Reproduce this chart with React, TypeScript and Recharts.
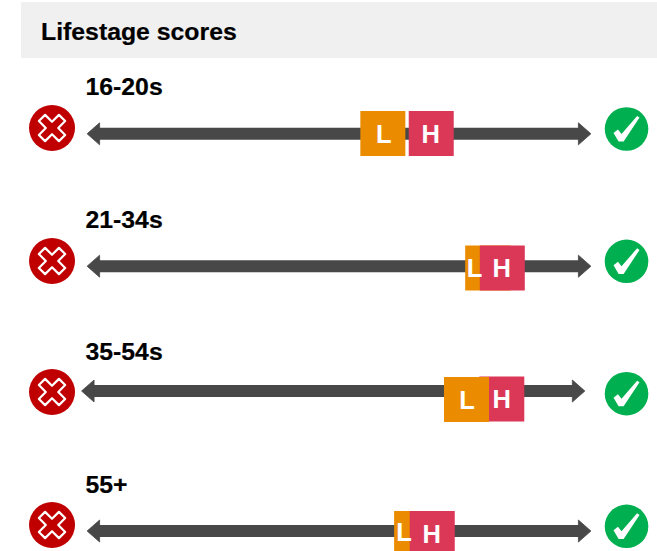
import React from "react";
import { ScatterChart, Scatter, XAxis, YAxis } from "recharts";

const title = "Lifestage scores";
const rowNames = ["16-20s", "21-34s", "35-54s", "55+"];
const lowScores = [58.7, 79.5, 75.3, 65.4];
const highScores = [68.3, 82.4, 82.3, 68.5];
const lowLabelScores = [58.9, 76.9, 75.4, 62.9];
const highLabelScores = [68.2, 82.3, 82.3, 68.4];
const shaftStart = [2.4, 2.4, 1.3, 2.4];
const shaftEnd = [97.6, 97.6, 96.4, 97.6];
const lowOnTop = [false, false, true, false];

// vertical levels on the chart's 0-551 axis
const shaftLevels = [133.8, 266.2, 391, 531];
const lowBoxLevels = [133.5, 268, 399.5, 533.5];
const highBoxLevels = [133.5, 268, 399, 533.5];
const lowTextLevels = [142.7, 276.7, 409, 541];
const highTextLevels = [142.7, 276.7, 408, 543];
const nameLevels = [95, 228, 360, 493];
const crossLevels = [128, 261, 392, 525];
const checkLevels = [129, 261.3, 393.7, 526.3];

const W = 657;
const H = 551;
const UNIT = 5.04;
const ORIGIN = 87;
const xDomain: [number, number] = [-ORIGIN / UNIT, (W - ORIGIN) / UNIT];
const crossScore = -6.94;
const checkScore = 107.05;
const nameScore = -0.3;

const FONT = "'Liberation Sans', Arial, sans-serif";
const DARK = "#484848";
const LOW = "#EB8C00";
const HIGH = "#DB3858";

const boxes = rowNames.flatMap((_, i) => {
  const l = { x: lowScores[i], y: lowBoxLevels[i], fill: LOW };
  const h = { x: highScores[i], y: highBoxLevels[i], fill: HIGH };
  return lowOnTop[i] ? [h, l] : [l, h];
});
const boxTexts = rowNames.flatMap((_, i) => [
  { x: lowLabelScores[i], y: lowTextLevels[i], t: "L" },
  { x: highLabelScores[i], y: highTextLevels[i], t: "H" },
]);
const names = rowNames.map((t, i) => ({ x: nameScore, y: nameLevels[i], t }));
const crosses = crossLevels.map((y) => ({ x: crossScore, y }));
const checks = checkLevels.map((y) => ({ x: checkScore, y }));

const Head = (p: any) =>
  p.payload.dir < 0 ? (
    <path d={`M${p.cx + 0.5} ${p.cy - 11} L${p.cx - 12} ${p.cy} L${p.cx + 0.5} ${p.cy + 11} Z`} fill={DARK} stroke={DARK} strokeWidth={0.8} strokeLinejoin="round" />
  ) : (
    <path d={`M${p.cx - 0.5} ${p.cy - 11} L${p.cx + 12} ${p.cy} L${p.cx - 0.5} ${p.cy + 11} Z`} fill={DARK} stroke={DARK} strokeWidth={0.8} strokeLinejoin="round" />
  );

const Box = (p: any) => (
  <rect x={p.cx - 22.5} y={p.cy - 22.5} width={45} height={45} fill={p.payload.fill} />
);

const BoxText = (p: any) => (
  <text x={p.cx} y={p.cy} textAnchor="middle" fill="#fff" fontFamily={FONT} fontWeight={700} fontSize={25.5}>
    {p.payload.t}
  </text>
);

const NameText = (p: any) => (
  <text x={p.cx} y={p.cy} textAnchor="start" fill="#000" fontFamily={FONT} fontWeight={700} fontSize={24.8} stroke="#000" strokeWidth={0.2}>
    {p.payload.t}
  </text>
);

const Cross = (p: any) => {
  const L = 14.2;
  const w = 4.4;
  const d = `M${-w} ${-L} H${w} V${-w} H${L} V${w} H${w} V${L} H${-w} V${w} H${-L} V${-w} H${-w} Z`;
  return (
    <g transform={`translate(${p.cx} ${p.cy})`}>
      <circle r={23} fill="#C00000" />
      <path d={d} transform="rotate(45)" fill="#C00000" stroke="#fff" strokeWidth={2.2} strokeLinejoin="round" />
    </g>
  );
};

const Check = (p: any) => (
  <g transform={`translate(${p.cx} ${p.cy})`}>
    <circle r={21.8} fill="#00B050" />
    <path d="M-13 4 L-8.6 0.5 L-5 5 L10.6 -13 L13 -11.4 L-2.9 12.6 L-7.9 12.6 Z" fill="#fff" />
  </g>
);

export default function App() {
  return (
    <div style={{ position: "absolute", left: 0, top: 0, width: W, height: H, overflow: "hidden", background: "#fff" }}>
      <div
        style={{
          position: "absolute",
          left: 21,
          top: 2,
          width: W - 21,
          height: 56,
          background: "#F0F0F0",
          color: "#000",
          fontFamily: FONT,
          fontWeight: 700,
          fontSize: 24.8,
          lineHeight: "59px",
          paddingLeft: 20,
          boxSizing: "border-box",
          WebkitTextStroke: "0.2px #000",
        }}
      >
        {title}
      </div>
      <div style={{ position: "absolute", left: 0, top: 0 }}>
        <ScatterChart width={W} height={H} margin={{ top: 0, right: 0, bottom: 0, left: 0 }}>
          <XAxis type="number" dataKey="x" domain={xDomain} hide allowDataOverflow />
          <YAxis type="number" dataKey="y" domain={[0, H]} reversed hide allowDataOverflow />
          {rowNames.map((n, i) => (
            <Scatter
              key={n}
              name={n}
              data={[
                { x: shaftStart[i], y: shaftLevels[i], dir: -1 },
                { x: shaftEnd[i], y: shaftLevels[i], dir: 1 },
              ]}
              line={{ stroke: DARK, strokeWidth: 12 }}
              shape={Head}
              isAnimationActive={false}
            />
          ))}
          <Scatter name="cross" data={crosses} shape={Cross} isAnimationActive={false} />
          <Scatter name="check" data={checks} shape={Check} isAnimationActive={false} />
          <Scatter name="scores" data={boxes} shape={Box} isAnimationActive={false} />
          <Scatter name="score letters" data={boxTexts} shape={BoxText} isAnimationActive={false} />
          <Scatter name="rows" data={names} shape={NameText} isAnimationActive={false} />
        </ScatterChart>
      </div>
    </div>
  );
}
